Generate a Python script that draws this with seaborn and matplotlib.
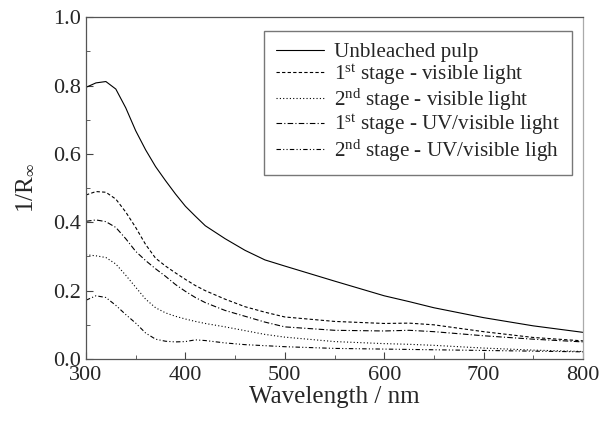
import numpy as np
import pandas as pd
import seaborn as sns
import matplotlib.pyplot as plt
from matplotlib.ticker import MultipleLocator

# wavelengths (nm)
wavelength = [300, 310, 320, 330, 340, 350, 360, 370, 380, 390, 400, 410, 420, 440,
              460, 480, 500, 550, 600, 625, 650, 700, 750, 800]

unbleached = [0.795, 0.808, 0.812, 0.790, 0.735, 0.668, 0.612, 0.563, 0.522, 0.483, 0.447,
              0.418, 0.390, 0.352, 0.318, 0.290, 0.272, 0.228, 0.185, 0.168, 0.150, 0.121,
              0.097, 0.078]
stage1_vis = [0.480, 0.490, 0.488, 0.468, 0.430, 0.385, 0.335, 0.295, 0.272, 0.252, 0.233,
              0.215, 0.200, 0.175, 0.153, 0.137, 0.123, 0.110, 0.104, 0.105, 0.100, 0.080,
              0.063, 0.053]
stage2_vis = [0.305, 0.302, 0.297, 0.278, 0.245, 0.210, 0.175, 0.150, 0.135, 0.125, 0.117,
              0.110, 0.104, 0.094, 0.083, 0.072, 0.064, 0.051, 0.045, 0.043, 0.040, 0.032,
              0.026, 0.022]
stage1_uv = [0.403, 0.407, 0.402, 0.385, 0.352, 0.315, 0.288, 0.264, 0.242, 0.218, 0.198,
             0.180, 0.165, 0.142, 0.125, 0.108, 0.094, 0.084, 0.082, 0.084, 0.080, 0.068,
             0.058, 0.050]
stage2_uv = [0.172, 0.185, 0.180, 0.157, 0.130, 0.105, 0.076, 0.058, 0.052, 0.050, 0.051,
             0.056, 0.054, 0.047, 0.042, 0.039, 0.036, 0.031, 0.029, 0.028, 0.027, 0.025,
             0.023, 0.021]

labels = ['Unbleached pulp',
          r'1$^{\rm st}$ stage - visible light',
          r'2$^{\rm nd}$ stage - visible light',
          r'1$^{\rm st}$ stage - UV/visible light',
          r'2$^{\rm nd}$ stage - UV/visible ligh']
series = [unbleached, stage1_vis, stage2_vis, stage1_uv, stage2_uv]

frames = []
for lab, vals in zip(labels, series):
    frames.append(pd.DataFrame({'wl': wavelength, 'val': vals, 'sample': lab}))
df = pd.concat(frames, ignore_index=True)

sns.set_style('ticks')
plt.rcParams['font.family'] = ['Liberation Serif', 'DejaVu Serif']
plt.rcParams['mathtext.fontset'] = 'custom'
plt.rcParams['mathtext.rm'] = 'Liberation Serif'
plt.rcParams['mathtext.it'] = 'Liberation Serif:italic'

dash_map = {labels[0]: '',
            labels[1]: (3, 2),
            labels[2]: (1, 2),
            labels[3]: (5, 2, 1, 2),
            labels[4]: (4, 2, 1, 2, 1, 2)}

fig = plt.figure(figsize=(6.08, 4.21), dpi=100)
ax = fig.add_axes([86/608, 1 - 359/421, (583-86)/608, (359-17.3)/421])

sns.lineplot(data=df, x='wl', y='val', style='sample', dashes=dash_map,
             color='black', linewidth=0.8, ax=ax, legend=True)

ax.set_xlim(300, 800)
ax.set_ylim(0, 1.0)
ax.xaxis.set_major_locator(MultipleLocator(100))
ax.xaxis.set_minor_locator(MultipleLocator(50))
ax.yaxis.set_major_locator(MultipleLocator(0.2))
ax.yaxis.set_minor_locator(MultipleLocator(0.1))
ax.yaxis.set_major_formatter(plt.FormatStrFormatter('%.1f'))
ax.tick_params(which='both', direction='in', top=False, right=False, labelsize=16,
               color='#444444')
ax.tick_params(axis='x', pad=5)
ax.tick_params(which='major', length=5)
ax.tick_params(which='minor', length=3)
for s in ax.spines.values():
    s.set_linewidth(0.9)
    s.set_color('#555555')
ax.spines['right'].set_color('#aaaaaa')

ax.set_xlabel('Wavelength / nm', fontsize=18, labelpad=1)
ax.set_ylabel(r'1/R$_{\infty}$', fontsize=18, labelpad=12)

leg = ax.legend(loc='upper right', bbox_to_anchor=(0.977, 0.961), fontsize=15.2,
                handlelength=2.3, handletextpad=0.45, labelspacing=0.0,
                borderpad=0.55, borderaxespad=0, fancybox=False, framealpha=1,
                edgecolor='#777777')
leg.get_frame().set_linewidth(1.0)
for line in leg.get_lines():
    line.set_linewidth(0.8)

fig.savefig('out.png', dpi=100)
